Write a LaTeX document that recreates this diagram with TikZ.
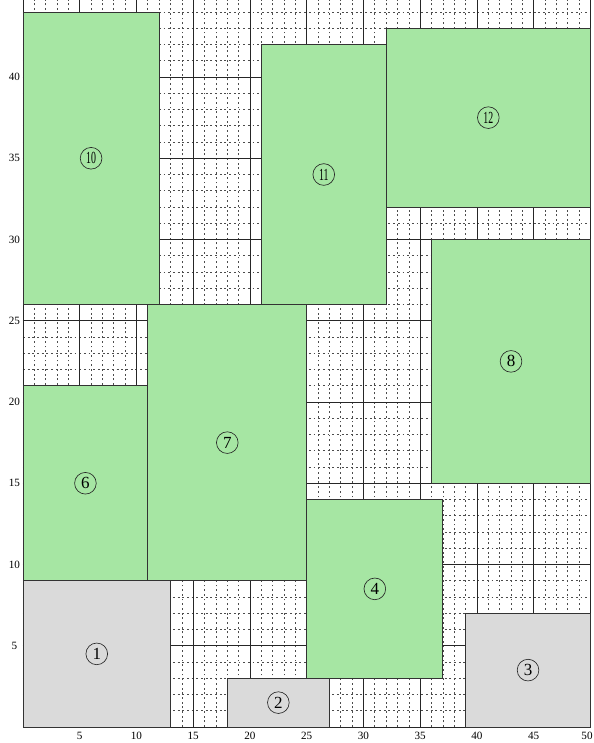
\documentclass[tikz,border=0pt]{standalone}
\usepackage{fontspec}
\usepackage{graphicx}
\setmainfont{Liberation Serif}
\usetikzlibrary{fit}
\definecolor{boxgreen}{RGB}{166,230,163}
\definecolor{boxgray}{RGB}{218,218,218}
\begin{document}
\begin{tikzpicture}[x=0.3405cm,y=0.4875cm,
 minor/.style={black!70,line width=0.6pt,dash pattern=on 1.6pt off 2.4pt},
 major/.style={black!85,line width=0.75pt},
 gbox/.style={draw=black!80,line width=0.75pt,fill=boxgreen,inner sep=0pt},
 ybox/.style={draw=black!80,line width=0.75pt,fill=boxgray,inner sep=0pt},
 num/.style={circle,draw=black!85,line width=0.55pt,minimum size=18.5pt,inner sep=0pt,font=\fontsize{14.5}{14.5}\selectfont},
 ticklab/.style={font=\fontsize{9.5}{11}\selectfont}]
\useasboundingbox (-2.026,-0.985) rectangle (50.31,44.74);
\begin{scope}
\clip (0,0) rectangle (50.31,44.74);
\foreach \i in {0,...,50} \draw[minor] (\i,0) -- (\i,44.74);
\foreach \j in {0,...,44} \draw[minor] (0,\j) -- (50,\j);
\foreach \i in {5,10,...,50} \draw[major] (\i,0) -- (\i,44.74);
\foreach \j in {5,10,...,40} \draw[major] (0,\j) -- (50,\j);
\end{scope}
\coordinate (o) at (0,0);
\coordinate (xe) at (50,0);
\coordinate (ye) at (0,44.74);
\draw[major] (ye) -- (o) -- (xe);
\node[ybox,fit={(0,0)(13,9)}] (b1) {};
\node[ybox,fit={(18,0)(27,3)}] (b2) {};
\node[ybox,fit={(39,0)(50,7)}] (b3) {};
\node[gbox,fit={(25,3)(37,14)}] (b4) {};
\node[gbox,fit={(0,9)(11,21)}] (b6) {};
\node[gbox,fit={(11,9)(25,26)}] (b7) {};
\node[gbox,fit={(36,15)(50,30)}] (b8) {};
\node[gbox,fit={(0,26)(12,44)}] (b10) {};
\node[gbox,fit={(21,26)(32,42)}] (b11) {};
\node[gbox,fit={(32,32)(50,43)}] (b12) {};
\node[num] (n1) at (b1) {1};
\node[num] (n2) at (b2) {2};
\node[num] (n3) at (b3) {3};
\node[num] (n4) at (b4) {4};
\node[num] (n6) at (b6) {6};
\node[num] (n7) at (b7) {7};
\node[num] (n8) at (b8) {8};
\node[num] (n10) at (b10) {\scalebox{0.58}[1]{10}};
\node[num] (n11) at (b11) {\scalebox{0.58}[1]{11}};
\node[num] (n12) at (b12) {\scalebox{0.58}[1]{12}};
\foreach \i in {5,10,...,45} \node[ticklab] (xl\i) at (\i,-0.55) {\i};
\node[ticklab,anchor=east,inner sep=1pt] (xl50) at (50.31,-0.55) {50};
\foreach \j in {5,10,...,40} \node[ticklab] (yl\j) at (-0.75,\j) {\j};
\end{tikzpicture}
\end{document}
